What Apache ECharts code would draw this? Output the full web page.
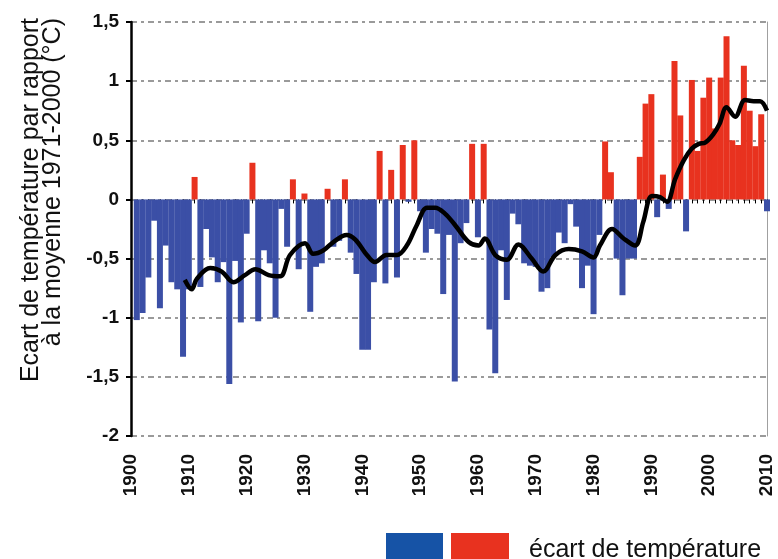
<!DOCTYPE html>
<html>
<head>
<meta charset="utf-8">
<script src="https://cdn.jsdelivr.net/npm/echarts@6/dist/echarts.min.js"></script>
<style>
html,body{margin:0;padding:0;background:#fff;}
#chart{width:778px;height:559px;}
</style>
</head>
<body>
<div id="chart"></div>
<script>
// Years of the annual bars
const years = [
  1901,1902,1903,1904,1905,1906,1907,1908,1909,1910,
  1911,1912,1913,1914,1915,1916,1917,1918,1919,1920,
  1921,1922,1923,1924,1925,1926,1927,1928,1929,1930,
  1931,1932,1933,1934,1935,1936,1937,1938,1939,1940,
  1941,1942,1943,1944,1945,1946,1947,1948,1949,1950,
  1951,1952,1953,1954,1955,1956,1957,1958,1959,1960,
  1961,1962,1963,1964,1965,1966,1967,1968,1969,1970,
  1971,1972,1973,1974,1975,1976,1977,1978,1979,1980,
  1981,1982,1983,1984,1985,1986,1987,1988,1989,1990,
  1991,1992,1993,1994,1995,1996,1997,1998,1999,2000,
  2001,2002,2003,2004,2005,2006,2007,2008,2009,2010
];
// Annual temperature anomaly (°C) vs 1971-2000
const anomalies = [
  -1.02,-0.96,-0.66,-0.18,-0.92,-0.39,-0.70,-0.76,-1.33,-0.76,
   0.19,-0.74,-0.25,-0.49,-0.70,-0.53,-1.56,-0.52,-1.04,-0.29,
   0.31,-1.03,-0.43,-0.54,-1.00,-0.08,-0.40, 0.17,-0.59, 0.05,
  -0.95,-0.57,-0.54, 0.09,-0.40,-0.35, 0.17,-0.45,-0.63,-1.27,
  -1.27,-0.70, 0.41,-0.71, 0.25,-0.66, 0.46,-0.02, 0.50,-0.10,
  -0.45,-0.25,-0.29,-0.80,-0.30,-1.54,-0.37,-0.20, 0.47,-0.32,
   0.47,-1.10,-1.47,-0.43,-0.85,-0.12,-0.21,-0.54,-0.56,-0.57,
  -0.78,-0.75,-0.49,-0.28,-0.37,-0.04,-0.23,-0.75,-0.56,-0.97,
  -0.30, 0.49, 0.23,-0.50,-0.81,-0.50,-0.50, 0.36, 0.81, 0.89,
  -0.15, 0.21,-0.08, 1.17, 0.71,-0.27, 1.01, 0.41, 0.86, 1.03,
   0.60, 1.03, 1.38, 0.50, 0.46, 1.13, 0.75, 0.45, 0.72,-0.10
];
// Smoothed curve (positions)
const smoothYears = [
  1909.3,1910.5,1911.4,1913.7,1915.7,1917.7,1919.7,1921.5,1923.8,1925.8,
  1927.5,1930.1,1931.5,1933.3,1935.0,1937.3,1938.8,1940.8,1942.2,1944.2,
  1946.0,1947.7,1949.4,1951.2,1952.6,1954.3,1956.1,1958.4,1960.1,1961.2,
  1963.0,1965.0,1967.0,1969.3,1971.3,1973.4,1975.7,1978.0,1980.0,1981.1,
  1983.2,1985.2,1987.2,1988.6,1990.1,1991.5,1992.7,1994.1,1995.6,1997.0,
  1998.2,1999.3,2000.7,2001.8,2003.0,2004.5,2006.2,2007.7,2008.8,2010.0
];
const smoothValues = [
  -0.68,-0.76,-0.67,-0.58,-0.61,-0.70,-0.64,-0.59,-0.64,-0.65,
  -0.47,-0.37,-0.46,-0.43,-0.36,-0.30,-0.34,-0.47,-0.53,-0.47,
  -0.47,-0.39,-0.22,-0.07,-0.07,-0.12,-0.22,-0.36,-0.39,-0.33,
  -0.47,-0.51,-0.38,-0.50,-0.61,-0.47,-0.42,-0.44,-0.49,-0.39,
  -0.25,-0.33,-0.39,-0.19, 0.03, 0.02,-0.02, 0.17, 0.33, 0.43,
   0.47, 0.48, 0.55, 0.64, 0.78, 0.70, 0.84, 0.83, 0.83, 0.75
];
const xTickLabels = ['1900','1910','1920','1930','1940','1950','1960','1970','1980','1990','2000','2010'];
const yTitle = 'Ecart de température par rapport\nà la moyenne 1971-2000 (°C)';
const legendText = 'écart de température';

const BLUE = '#3b4fa6';
const RED = '#e8321f';
const FONT = '"Liberation Sans", Arial, sans-serif';

const barData = years.map((y, i) => [y, anomalies[i]]);
const lineData = smoothYears.map((y, i) => [y, smoothValues[i]]);

const chart = echarts.init(document.getElementById('chart'), null, {renderer: 'canvas'});
chart.setOption({
  backgroundColor: '#fff',
  animation: false,
  grid: {left: 131, right: 11, top: 22, bottom: 123, containLabel: false},
  xAxis: [
    {
      type: 'value', min: 1900, max: 2010, interval: 1,
      axisLine: {show: true, onZero: true, lineStyle: {opacity: 0}},
      axisTick: {show: true, length: 4, lineStyle: {color: '#000', width: 1}},
      axisLabel: {show: false},
      splitLine: {show: false}
    },
    {
      type: 'value', min: 1900, max: 2010, interval: 10, position: 'bottom',
      axisLine: {show: false, onZero: false},
      axisTick: {show: false},
      splitLine: {show: false},
      axisLabel: {
        rotate: 90, margin: 18,
        fontFamily: FONT, fontWeight: 'bold', fontSize: 19, color: '#111',
        formatter: v => xTickLabels[Math.round((v - 1900) / 10)] || ''
      }
    }
  ],
  yAxis: [
    {
      type: 'value', min: -2, max: 1.5, interval: 0.5,
      axisLine: {show: true, lineStyle: {color: '#000', width: 2.5}},
      axisTick: {show: true, inside: false, length: 5, lineStyle: {color: '#000', width: 2}},
      axisLabel: {
        margin: 12, fontFamily: FONT, fontWeight: 'bold', fontSize: 19, color: '#111',
        formatter: v => String(v).replace('.', ',')
      },
      splitLine: {show: true, lineStyle: {color: '#7a7a7a', width: 1.5, type: [6, 4, 3, 4]}}
    },
    {
      type: 'value', min: -2, max: 1.5, interval: 0.5, position: 'right',
      axisLine: {show: true, lineStyle: {color: '#a0a0a0', width: 1}},
      axisTick: {show: false}, axisLabel: {show: false}, splitLine: {show: false}
    }
  ],
  series: [
    {
      name: legendText,
      type: 'bar',
      xAxisIndex: 0, yAxisIndex: 0,
      data: barData,
      barWidth: 6,
      itemStyle: {color: p => (p.value[1] >= 0 ? RED : BLUE)},
      z: 2
    },
    {
      type: 'line',
      xAxisIndex: 0, yAxisIndex: 0,
      data: lineData,
      smooth: 0.35,
      symbol: 'none',
      lineStyle: {color: '#000', width: 4.5},
      z: 3
    }
  ],
  graphic: [
    {
      type: 'text', x: 42, y: 18, rotation: Math.PI / 2,
      style: {
        text: yTitle, fontFamily: FONT, fontSize: 25, lineHeight: 22,
        fill: '#111', align: 'right', verticalAlign: 'middle'
      }
    },
    {type: 'rect', shape: {x: 386, y: 533, width: 57, height: 30}, style: {fill: '#1653a6'}},
    {type: 'rect', shape: {x: 451, y: 533, width: 58, height: 30}, style: {fill: '#e8321f'}},
    {
      type: 'text', x: 529, y: 538,
      style: {text: legendText, fontFamily: FONT, fontSize: 25, fill: '#111', align: 'left', verticalAlign: 'top'}
    }
  ]
});
</script>
</body>
</html>
